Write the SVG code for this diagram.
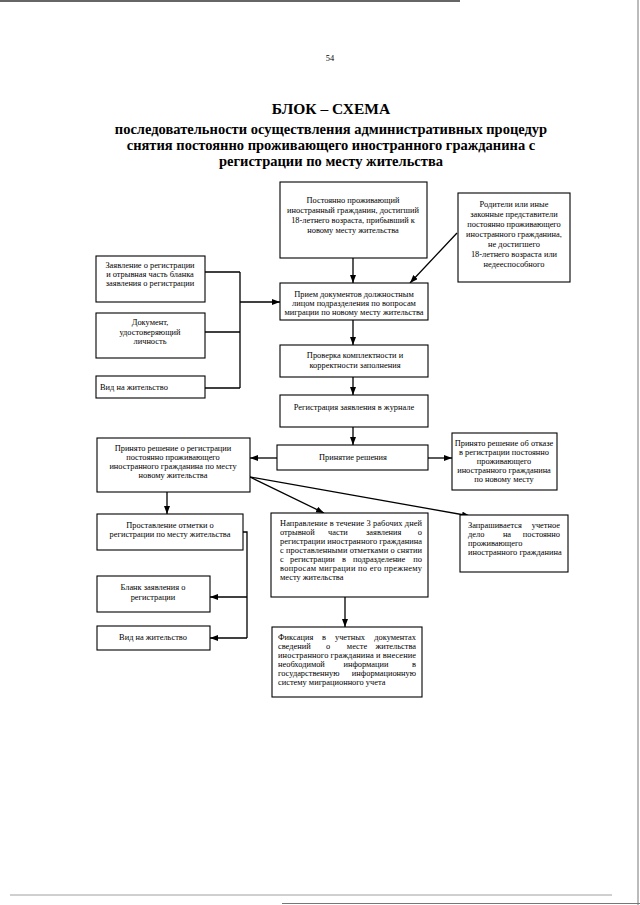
<svg xmlns="http://www.w3.org/2000/svg" width="640" height="905" viewBox="0 0 640 905">
<style>
.bx{fill:#fff;stroke:#000;stroke-width:1.1}
.t{font-family:"Liberation Serif","DejaVu Serif",serif;font-size:8.4px;fill:#000}
.c{text-anchor:middle}
.ttl{font-family:"Liberation Serif","DejaVu Serif",serif;font-weight:bold;fill:#000;text-anchor:middle}
.ln{fill:none;stroke:#000;stroke-width:1.3}
.ar{fill:none;stroke:#000;stroke-width:1.3;marker-end:url(#ah)}
</style>
<defs>
<marker id="ah" markerUnits="userSpaceOnUse" markerWidth="9" markerHeight="7" refX="8" refY="3" orient="auto">
<path d="M0,0 L8,3 L0,6 z" fill="#000"/>
</marker>
</defs>
<rect width="640" height="905" fill="#fff"/>
<line x1="0" y1="1" x2="460" y2="1" stroke="#333" stroke-width="1.5"/>
<line x1="638" y1="0" x2="638" y2="905" stroke="#555" stroke-width="0.8"/>
<line x1="10" y1="895" x2="612" y2="895" stroke="#888" stroke-width="0.8"/>
<line x1="282" y1="903.5" x2="640" y2="903.5" stroke="#777" stroke-width="1"/>

<text x="330" y="61" class="t c" font-size="10">54</text>
<text x="331" y="114" class="ttl" font-size="15.5">БЛОК – СХЕМА</text>
<text x="331" y="134" class="ttl" font-size="14.5">последовательности осуществления административных процедур</text>
<text x="331" y="150" class="ttl" font-size="14.5">снятия постоянно проживающего иностранного гражданина с</text>
<text x="331" y="166" class="ttl" font-size="14.5">регистрации по месту жительства</text>

<g id="connectors">
<path class="ar" d="M353,258 L353,283"/>
<path class="ar" d="M457,233 L410,283"/>
<path class="ln" d="M205,272 H240 M205,332 H240 M205,388 H240 M240,272 V388"/>
<path class="ar" d="M240,302 H280"/>
<path class="ar" d="M353,320 V345"/>
<path class="ar" d="M353,377 V395"/>
<path class="ar" d="M353,427 V445"/>
<path class="ar" d="M428,458 H452"/>
<path class="ar" d="M277,458 H250"/>
<path class="ar" d="M167,492 V514"/>
<path class="ar" d="M250,477 L324,513"/>
<path class="ar" d="M250,477 L470,516"/>
<path class="ln" d="M243,532 H247 V638"/>
<path class="ar" d="M247,597 H210"/>
<path class="ar" d="M247,638 H210"/>
<path class="ar" d="M345,597 V627"/>
</g>

<g id="n1">
<rect class="bx" x="280" y="182" width="147" height="76"/>
<text class="t c" x="353" y="203">Постоянно проживающий</text>
<text class="t c" x="353" y="213">иностранный гражданин, достигший</text>
<text class="t c" x="353" y="223">18-летнего возраста, прибывший к</text>
<text class="t c" x="353" y="233">новому месту жительства</text>
</g>

<g id="n2">
<rect class="bx" x="458" y="193" width="112" height="89"/>
<text class="t c" x="514" y="207">Родители или иные</text>
<text class="t c" x="514" y="217">законные представители</text>
<text class="t c" x="514" y="227">постоянно проживающего</text>
<text class="t c" x="514" y="237">иностранного гражданина,</text>
<text class="t c" x="514" y="247">не достигшего</text>
<text class="t c" x="514" y="257">18-летнего возраста или</text>
<text class="t c" x="514" y="267">недееспособного</text>
</g>

<g id="n3">
<rect class="bx" x="280" y="283" width="148" height="37"/>
<text class="t c" x="354" y="297">Прием документов должностным</text>
<text class="t c" x="354" y="306">лицом подразделения по вопросам</text>
<text class="t c" x="354" y="315">миграции по новому месту жительства</text>
</g>

<g id="l1">
<rect class="bx" x="96" y="256" width="109" height="46"/>
<text class="t c" x="150" y="268">Заявление о регистрации</text>
<text class="t c" x="150" y="277">и отрывная часть бланка</text>
<text class="t c" x="150" y="286">заявления о регистрации</text>
</g>

<g id="l2">
<rect class="bx" x="96" y="313" width="109" height="45"/>
<text class="t c" x="150" y="325">Документ,</text>
<text class="t c" x="150" y="335">удостоверяющий</text>
<text class="t c" x="150" y="344">личность</text>
</g>

<g id="l3">
<rect class="bx" x="96" y="376" width="109" height="22"/>
<text class="t" x="100" y="390">Вид на жительство</text>
</g>

<g id="n4">
<rect class="bx" x="280" y="345" width="148" height="32"/>
<text class="t c" x="355" y="358">Проверка комплектности и</text>
<text class="t c" x="355" y="368">корректности заполнения</text>
</g>

<g id="n5">
<rect class="bx" x="280" y="395" width="148" height="32"/>
<text class="t c" x="354" y="410">Регистрация заявления в журнале</text>
</g>

<g id="n6">
<rect class="bx" x="277" y="445" width="151" height="25"/>
<text class="t c" x="353" y="460">Принятие решения</text>
</g>

<g id="n7">
<rect class="bx" x="452" y="433" width="105" height="57"/>
<text class="t c" x="504" y="446">Принято решение об отказе</text>
<text class="t c" x="504" y="455">в регистрации постоянно</text>
<text class="t c" x="504" y="464">проживающего</text>
<text class="t c" x="504" y="473">иностранного гражданина</text>
<text class="t c" x="504" y="482">по новому месту</text>
</g>

<g id="n8">
<rect class="bx" x="97" y="438" width="153" height="54"/>
<text class="t c" x="173" y="451">Принято решение о регистрации</text>
<text class="t c" x="173" y="460">постоянно проживающего</text>
<text class="t c" x="173" y="469">иностранного гражданина по месту</text>
<text class="t c" x="173" y="478">новому жительства</text>
</g>

<g id="n9">
<rect class="bx" x="97" y="514" width="146" height="36"/>
<text class="t c" x="170" y="528">Проставление отметки о</text>
<text class="t c" x="170" y="537">регистрации по месту жительства</text>
</g>

<g id="n10">
<rect class="bx" x="97" y="576" width="113" height="36"/>
<text class="t c" x="153" y="590">Бланк заявления о</text>
<text class="t c" x="153" y="600">регистрации</text>
</g>

<g id="n11">
<rect class="bx" x="97" y="626" width="113" height="24"/>
<text class="t c" x="153" y="640">Вид на жительство</text>
</g>

<g id="n12">
<rect class="bx" x="271" y="513" width="157" height="84"/>
<text class="t" x="280" y="526" textLength="142" lengthAdjust="spacing">Направление в течение 3 рабочих дней</text>
<text class="t" x="280" y="535">отрывной</text>
<text class="t" x="328" y="535">части</text>
<text class="t" x="366" y="535">заявления</text>
<text class="t" x="422" y="535" text-anchor="end">о</text>
<text class="t" x="280" y="544" textLength="142" lengthAdjust="spacing">регистрации иностранного гражданина</text>
<text class="t" x="280" y="553" textLength="142" lengthAdjust="spacing">с проставленными отметками о снятии</text>
<text class="t" x="280" y="562">с</text>
<text class="t" x="290" y="562">регистрации</text>
<text class="t c" x="344" y="562">в</text>
<text class="t" x="353" y="562">подразделение</text>
<text class="t" x="422" y="562" text-anchor="end">по</text>
<text class="t" x="280" y="571" textLength="142" lengthAdjust="spacing">вопросам миграции по его прежнему</text>
<text class="t" x="280" y="580">месту жительства</text>
</g>

<g id="n13">
<rect class="bx" x="460" y="515" width="108" height="57"/>
<text class="t" x="468" y="528">Запрашивается</text>
<text class="t" x="560" y="528" text-anchor="end">учетное</text>
<text class="t" x="468" y="537">дело</text>
<text class="t" x="507" y="537" text-anchor="middle">на</text>
<text class="t" x="560" y="537" text-anchor="end">постоянно</text>
<text class="t" x="468" y="546">проживающего</text>
<text class="t" x="468" y="555">иностранного гражданина</text>
</g>

<g id="n14">
<rect class="bx" x="272" y="627" width="150" height="70"/>
<text class="t" x="278" y="640">Фиксация</text>
<text class="t" x="324" y="640" text-anchor="middle">в</text>
<text class="t" x="350" y="640" text-anchor="middle">учетных</text>
<text class="t" x="416" y="640" text-anchor="end">документах</text>
<text class="t" x="278" y="649">сведений</text>
<text class="t" x="328" y="649" text-anchor="middle">о</text>
<text class="t" x="357" y="649" text-anchor="middle">месте</text>
<text class="t" x="416" y="649" text-anchor="end">жительства</text>
<text class="t" x="278" y="658" textLength="138" lengthAdjust="spacing">иностранного гражданина и внесение</text>
<text class="t" x="278" y="667">необходимой</text>
<text class="t" x="366" y="667" text-anchor="middle">информации</text>
<text class="t" x="416" y="667" text-anchor="end">в</text>
<text class="t" x="278" y="676">государственную</text>
<text class="t" x="416" y="676" text-anchor="end">информационную</text>
<text class="t" x="278" y="685">систему миграционного учета</text>
</g>
</svg>
